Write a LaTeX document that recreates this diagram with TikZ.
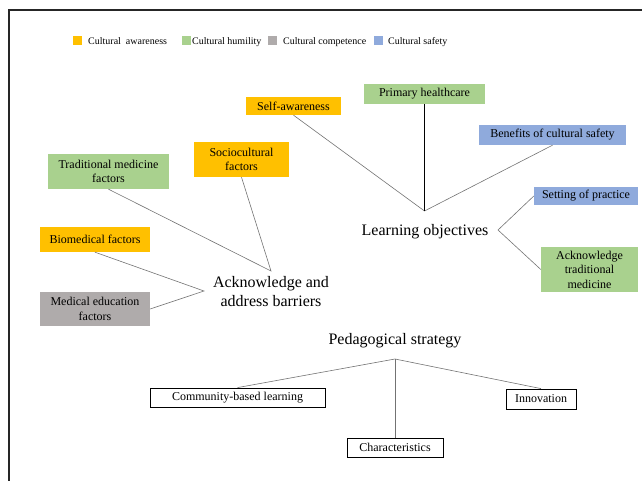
\documentclass[tikz,border=0pt]{standalone}
\usepackage{fontspec}
\setmainfont{Liberation Serif}
\definecolor{awareorange}{HTML}{FFC000}
\definecolor{humilgreen}{HTML}{A9D18E}
\definecolor{competgray}{HTML}{AFABAB}
\definecolor{safeblue}{HTML}{8FAADC}
\tikzset{>=stealth,
  catbox/.style={inner sep=0pt, align=center, font=\fontsize{12}{14.5}\selectfont},
  aware/.style={catbox, fill=awareorange},
  humil/.style={catbox, fill=humilgreen},
  compet/.style={catbox, fill=competgray},
  safe/.style={catbox, fill=safeblue},
  strat/.style={catbox, fill=white, draw=black, line width=0.8pt},
  theme/.style={inner sep=0pt, align=center, font=\fontsize{16}{19}\selectfont},
  legsq/.style={minimum size=8.5pt, inner sep=0pt, anchor=north west},
  legtxt/.style={inner sep=0pt, anchor=base west, font=\fontsize{10}{12}\selectfont},
  link/.style={draw=black!55, line width=0.6pt}}

\begin{document}
\begin{tikzpicture}[x=1pt, y=-1pt]
    \useasboundingbox (0,0) rectangle (642,481);
    \draw[line width=1.6pt, black!85] (9,490) -- (9,10) -- (650,10);

    \node[legsq, fill=awareorange] (sqaware) at (73,36) {};
    \node[legtxt] (legaware) at (88,44.5) {Cultural\ \ awareness};
    \node[legsq, fill=humilgreen] (sqhumil) at (182,36) {};
    \node[legtxt] (leghumil) at (192,44.5) {Cultural humility};
    \node[legsq, fill=competgray] (sqcompet) at (268,36) {};
    \node[legtxt] (legcompet) at (283,44.5) {Cultural competence};
    \node[legsq, fill=safeblue] (sqsafe) at (374,36) {};
    \node[legtxt] (legsafe) at (388,44.5) {Cultural safety};

    \node[theme] (learnobj) at (425,232) {Learning objectives};
    \coordinate (lotop) at (424.5,211);
    \coordinate (loright) at (498,230);
    \node[aware, minimum width=95pt, minimum height=18pt] (selfaw) at (293.5,106) {Self-awareness};
    \node[humil, minimum width=121pt, minimum height=20pt] (primary) at (424.5,94) {Primary healthcare};
    \node[safe, minimum width=147pt, minimum height=20pt] (benefits) at (552.5,135) {Benefits of cultural safety};
    \node[safe, minimum width=104pt, minimum height=18pt] (setting) at (586,196) {Setting of practice};
    \node[humil, minimum width=97pt, minimum height=45pt] (acktrad) at (589.5,269.5) {Acknowledge\\traditional\\medicine};
    \draw[link] (selfaw.south) -- (lotop) -- (benefits.south);
    \draw[black, line width=0.7pt] (primary.south) -- (lotop);
    \draw[link] (setting.west) -- (loright) -- (acktrad.west);

    \node[theme] (barriers) at (271,292) {Acknowledge and\\address barriers};
    \coordinate (batop) at (271,271);
    \coordinate (baleft) at (204,291);
    \node[humil, minimum width=121pt, minimum height=35pt] (tradmed) at (108.5,171.5) {Traditional medicine\\factors};
    \node[aware, minimum width=95pt, minimum height=35pt] (socio) at (241.5,159.5) {Sociocultural\\factors};
    \node[aware, minimum width=110pt, minimum height=25pt] (biomed) at (95,239.5) {Biomedical factors};
    \node[compet, minimum width=110pt, minimum height=34pt] (mededu) at (95,309) {Medical education\\factors};
    \draw[link] (tradmed.south) -- (batop) -- (socio.south);
    \draw[link] (biomed.south) -- (baleft) -- (mededu.east);

    \node[theme] (pedago) at (395,341) {Pedagogical strategy};
    \coordinate (pshub) at (395,359);
    \node[strat, minimum width=175pt, minimum height=19pt] (community) at (237.5,397.5) {Community-based learning};
    \node[strat, minimum width=70pt, minimum height=20pt] (innov) at (541,399) {Innovation};
    \node[strat, minimum width=96pt, minimum height=19pt] (charac) at (395,447.5) {Characteristics};
    \draw[link] (community.north) -- (pshub) -- (innov.north);
    \draw[link] (pshub) -- (charac.north);
\end{tikzpicture}
\end{document}
